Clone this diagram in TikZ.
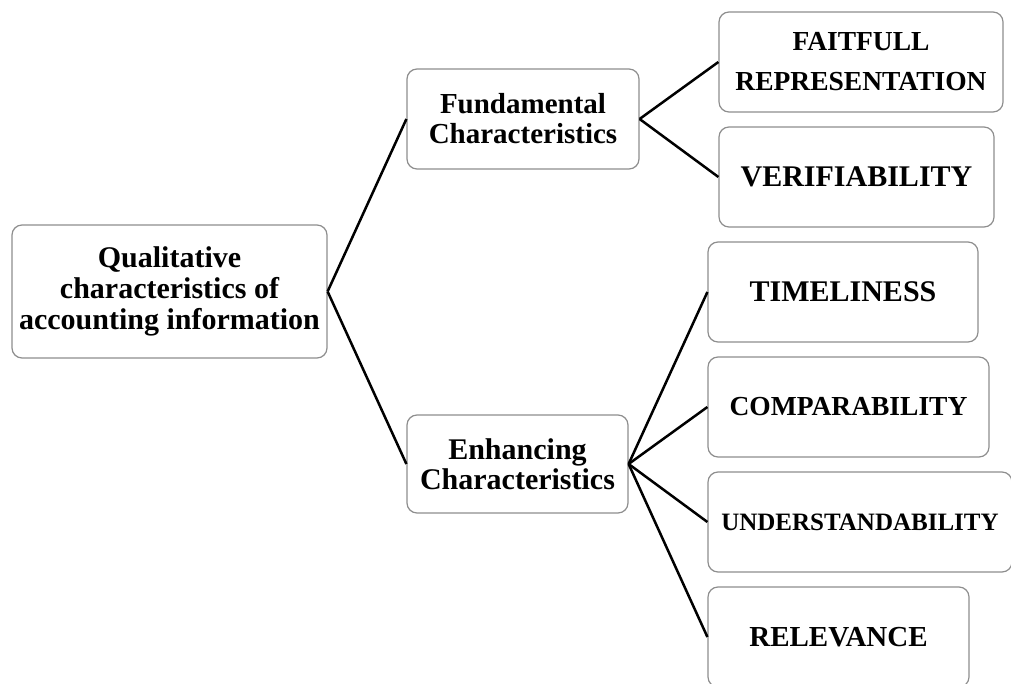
\documentclass[tikz,border=0pt]{standalone}
\usepackage{fontspec}
\setmainfont{Liberation Serif}
\usepackage{tikz}
\usetikzlibrary{positioning}
\definecolor{boxE}{HTML}{8E8E8E}

\begin{document}
\begin{tikzpicture}[
    x=1pt,y=-1pt,
    font=\bfseries,
    card/.style={rectangle,rounded corners=10pt,draw=boxE,fill=white,
                 line width=1.2pt,inner sep=0pt,align=center,
                 minimum height=100pt},
    link/.style={line width=2.5pt,color=black},
]
\useasboundingbox (0,0) rectangle (1011,684);

% =====================================================================
%  root and the two groups
% =====================================================================
\node[card,minimum width=315pt,minimum height=133pt,
      font=\bfseries\fontsize{30}{31}\selectfont] (qual) at (169.5,291.5)
     {Qualitative\\characteristics of\\accounting information};

\node[card,minimum width=232pt,font=\bfseries\fontsize{29}{30}\selectfont]
     (fund) at (523,119) {Fundamental\\Characteristics};
\node[card,minimum width=221pt,minimum height=98pt,
      font=\bfseries\fontsize{30}{30}\selectfont]
     (enh) at (517.5,464) {Enhancing\\Characteristics};

\draw[link] (qual.east) -- (fund.west);
\draw[link] (qual.east) -- (enh.west);

% =====================================================================
%  fundamental characteristics
% =====================================================================
\node[card,minimum width=284pt,font=\bfseries\fontsize{27.5}{40}\selectfont]
     (faith) at (861,62) {FAITFULL\\REPRESENTATION};
\node[card,minimum width=275pt,font=\bfseries\fontsize{30}{32}\selectfont]
     (verif) at (856.5,177) {VERIFIABILITY};

\foreach \n in {faith,verif} \draw[link] (fund.east) -- (\n.west);

% =====================================================================
%  enhancing characteristics
% =====================================================================
\node[card,minimum width=270pt,font=\bfseries\fontsize{30}{32}\selectfont]
     (timel) at (843,292) {TIMELINESS};
\node[card,minimum width=281pt,font=\bfseries\fontsize{27.5}{30}\selectfont]
     (compar) at (848.5,407) {COMPARABILITY};
\node[card,minimum width=304pt,font=\bfseries\fontsize{25}{28}\selectfont]
     (under) at (860,522) {UNDERSTANDABILITY};
\node[card,minimum width=261pt,font=\bfseries\fontsize{29}{32}\selectfont]
     (relev) at (838.5,637) {RELEVANCE};

\foreach \n in {timel,compar,under,relev} \draw[link] (enh.east) -- (\n.west);

\end{tikzpicture}
\end{document}
